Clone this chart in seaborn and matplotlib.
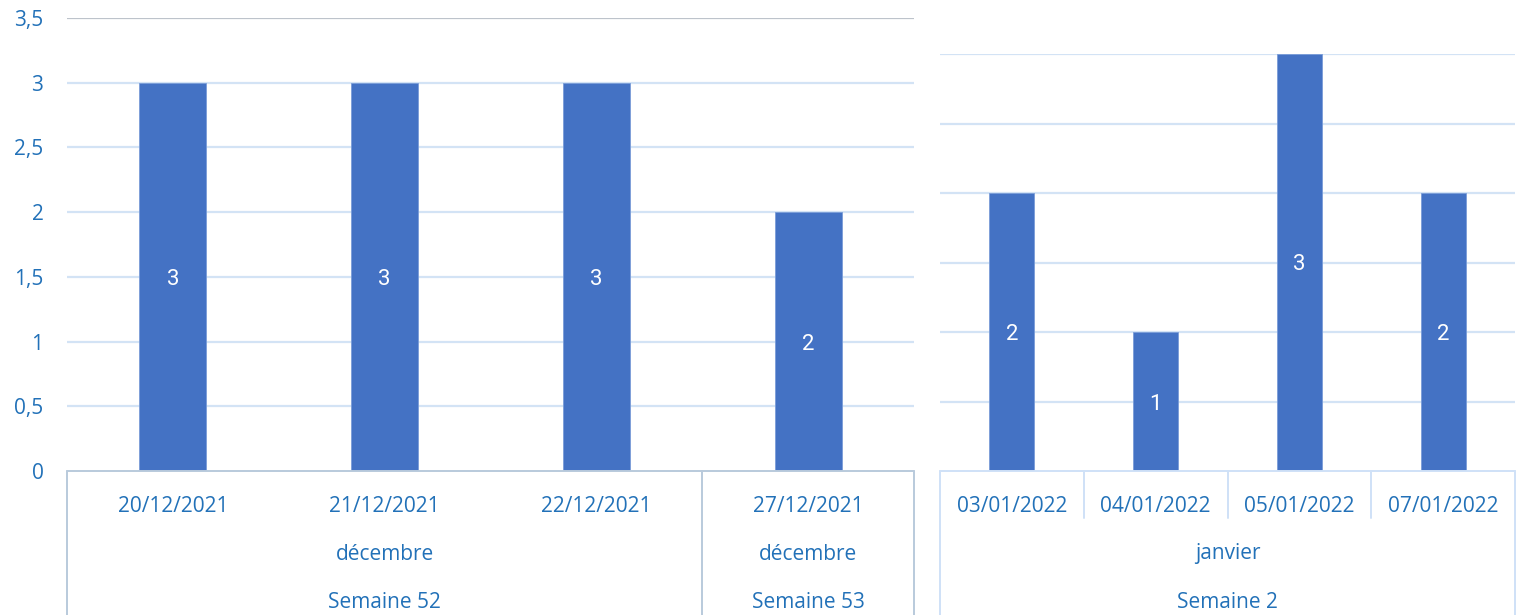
import matplotlib
matplotlib.use("Agg")
import matplotlib.pyplot as plt
import matplotlib.transforms as mtransforms
import seaborn as sns
import pandas as pd

# ---- data ----
left_dates = ["20/12/2021", "21/12/2021", "22/12/2021", "27/12/2021"]
left_values = [3, 3, 3, 2]
left_months = [("décembre", 0, 2), ("décembre", 3, 3)]
left_weeks = [("Semaine 52", 0, 2), ("Semaine 53", 3, 3)]

right_dates = ["03/01/2022", "04/01/2022", "05/01/2022", "07/01/2022"]
right_values = [2, 1, 3, 2]
right_months = [("janvier", 0, 3)]
right_weeks = [("Semaine 2", 0, 3)]

left_yticks = [0, 0.5, 1, 1.5, 2, 2.5, 3, 3.5]
left_ytick_labels = ["0", "0,5", "1", "1,5", "2", "2,5", "3", "3,5"]
right_yticks = [0.5, 1, 1.5, 2, 2.5, 3]

# ---- style ----
sns.set_theme(style="white")
plt.rcParams["font.family"] = ["Open Sans", "DejaVu Sans"]
BAR = "#4472C4"
TXT = "#2271B8"
GRID = "#D3E3F5"
LINE_L = "#B9CADC"
LINE_R = "#CFE1F7"
FS = 15

W, H = 1522, 615
fig = plt.figure(figsize=(W / 100, H / 100), dpi=100)

def fy(py):
    return (H - py) / H

ax1 = fig.add_axes([67 / W, fy(471), 847 / W, (471 - 18) / H])
ax2 = fig.add_axes([940 / W, fy(471), 575 / W, (471 - 54) / H])

df1 = pd.DataFrame({"date": left_dates, "val": left_values})
df2 = pd.DataFrame({"date": right_dates, "val": right_values})

sns.barplot(data=df1, x="date", y="val", ax=ax1, color=BAR, width=0.316,
            saturation=1, edgecolor="#7A9CD8", linewidth=0.6)
sns.barplot(data=df2, x="date", y="val", ax=ax2, color=BAR, width=0.313,
            saturation=1, edgecolor="#7A9CD8", linewidth=0.6)

ax1.set_ylim(0, 3.5)
ax2.set_ylim(0, 3)
for ax in (ax1, ax2):
    ax.set_xlim(-0.5, 3.5)
    ax.set_xlabel("")
    ax.set_ylabel("")
    ax.set_xticks([])
    for s in ax.spines.values():
        s.set_visible(False)
    ax.set_axisbelow(True)

ax1.set_yticks(left_yticks)
ax1.set_yticklabels(left_ytick_labels, color=TXT, fontsize=FS)
ax1.tick_params(axis="y", length=0, pad=17)
for t in left_yticks[1:]:
    col = "#BDC3CB" if t == 3.5 else GRID
    ax1.axhline(t, color=col, lw=1.6, zorder=0)

ax2.set_yticks(right_yticks)
ax2.set_yticklabels([])
ax2.tick_params(axis="y", length=0)
for t in right_yticks:
    ax2.axhline(t, color=GRID, lw=1.6, zorder=0)

# data labels
for ax, vals in ((ax1, left_values), (ax2, right_values)):
    for i, v in enumerate(vals):
        ax.text(i, v / 2, str(v), ha="center", va="center_baseline",
                color="white", fontsize=16, family=["Roboto", "DejaVu Sans"])

# category table
y_date, y_month, y_week = fy(506), fy(554), fy(602)

def table(ax, dates, months, weeks, color, minor_dividers, major_bounds):
    tr = mtransforms.blended_transform_factory(ax.transData, fig.transFigure)
    for i, d in enumerate(dates):
        ax.text(i, y_date, d, transform=tr, ha="center", va="center",
                color=TXT, fontsize=FS, clip_on=False)
    for name, a, b in months:
        ax.text((a + b) / 2, y_month, name, transform=tr, ha="center",
                va="center", color=TXT, fontsize=FS, clip_on=False)
    for name, a, b in weeks:
        ax.text((a + b) / 2, y_week, name, transform=tr, ha="center",
                va="center", color=TXT, fontsize=FS, clip_on=False)
    ax.plot([-0.5, 3.5], [fy(471), fy(471)], transform=tr, color=color,
            lw=1.4, clip_on=False)
    for x in major_bounds:
        ax.plot([x, x], [0, fy(471)], transform=tr, color=color, lw=1.4,
                clip_on=False)
    for x in minor_dividers:
        ax.plot([x, x], [fy(518), fy(471)], transform=tr, color=color,
                lw=1.4, clip_on=False)

table(ax1, left_dates, left_months, left_weeks, LINE_L, [], [-0.5, 2.5, 3.5])
table(ax2, right_dates, right_months, right_weeks, LINE_R, [0.5, 1.5, 2.5],
      [-0.5, 3.5])

fig.savefig("out.png", dpi=100, facecolor="white")
